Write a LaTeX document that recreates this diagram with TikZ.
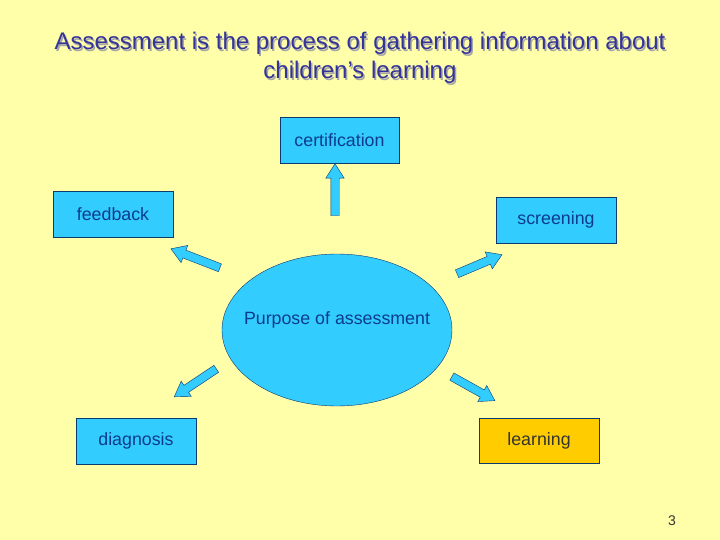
\documentclass[tikz,border=0pt]{standalone}
\usepackage{fontspec}
\setmainfont{Liberation Sans}
\usetikzlibrary{shapes.arrows,shapes.geometric,calc}
\definecolor{slidebg}{HTML}{FFFFAA}
\definecolor{boxfill}{HTML}{33CCFF}
\definecolor{boxline}{HTML}{0B3A6E}
\definecolor{boxtext}{HTML}{0B3C8C}
\definecolor{titlecol}{HTML}{333399}
\definecolor{learnfill}{HTML}{FFCC00}

% block arrow from tail (#1) to tip (#2)
\newcommand{\blockarrow}[2]{%
  \path let \p1=($(#2)-(#1)$), \n1={atan2(\y1,\x1)}, \n2={veclen(\x1,\y1)} in
    node[blockarr, rotate=\n1, minimum height=\n2] at ($(#1)!0.5!(#2)$) {};}

\begin{document}
\begin{tikzpicture}[x=1pt, y=-1pt,
    box/.style={draw=boxline, fill=boxfill, text=boxtext, minimum width=120, minimum height=46, inner sep=0, font=\fontsize{17.8}{21}\selectfont},
    blockarr/.style={single arrow, draw=boxline, fill=boxfill, inner xsep=0, inner ysep=4, minimum width=18, single arrow head extend=5, single arrow tip angle=65},
]
\fill[slidebg] (0,0) rectangle (720,540);
\useasboundingbox (0,0) rectangle (720,540);

% title with its shadow
\node[text=gray!70, align=center, font=\fontsize{24}{29}\selectfont] at (361.5,59.5)
  {Assessment is the process of gathering information about\\children’s learning};
\node[text=titlecol, align=center, font=\fontsize{24}{29}\selectfont] (title) at (360,58)
  {Assessment is the process of gathering information about\\children’s learning};

% purposes
\node[box, minimum width=119] (cert) at (339.5,140) {certification};
\node[box] (feed) at (113,214) {feedback};
\node[box] (screen) at (556,220) {screening};
\node[box] (diag) at (136,441) {diagnosis};
\node[box, fill=learnfill, text=black!80, minimum height=45] (learn) at (539,440.5) {learning};

% centre
\node[ellipse, draw=boxline, fill=boxfill, minimum width=230, minimum height=152] (purpose) at (337,330) {};
\node[text=boxtext, font=\fontsize{17.8}{21}\selectfont] (purposetxt) at (337,320) {Purpose of assessment};

% arrows
\coordinate (a1) at (335,219); \coordinate (b1) at (335,167);
\coordinate (a2) at (223,269); \coordinate (b2) at (174,250);
\coordinate (a3) at (454,275); \coordinate (b3) at (499,256);
\coordinate (a4) at (219,367); \coordinate (b4) at (177,395);
\coordinate (a5) at (449,375); \coordinate (b5) at (492,399);
\blockarrow{a1}{b1}
\blockarrow{a2}{b2}
\blockarrow{a3}{b3}
\blockarrow{a4}{b4}
\blockarrow{a5}{b5}

\node[text=black!80, font=\fontsize{14}{17}\selectfont] (pageno) at (672,521) {3};
\end{tikzpicture}
\end{document}
